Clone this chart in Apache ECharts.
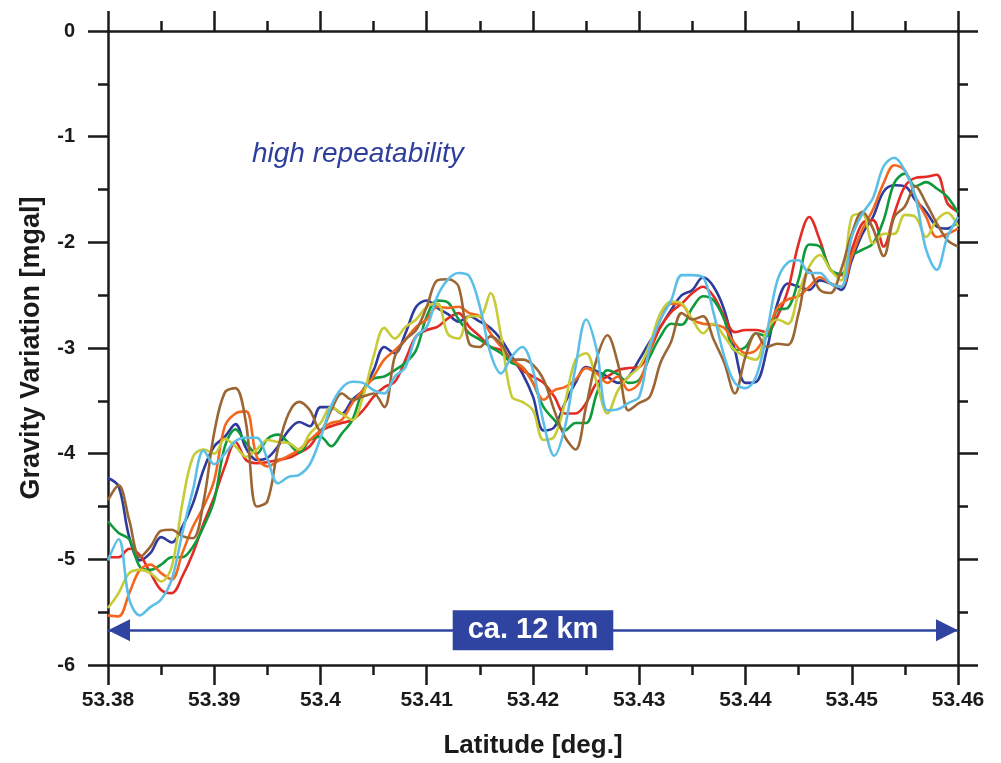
<!DOCTYPE html>
<html>
<head>
<meta charset="utf-8">
<script src="https://cdn.jsdelivr.net/npm/echarts@6/dist/echarts.min.js"></script>
<style>html,body{margin:0;padding:0;background:#fff}#c{width:1001px;height:763px}</style>
</head>
<body>
<div id="c"></div>
<script>
// sample positions: latitude 53.380 ... 53.460 every 0.001 deg
const latStart = 53.38, latStep = 0.001, nSamples = 81;
const xTicks = [53.38, 53.39, 53.40, 53.41, 53.42, 53.43, 53.44, 53.45, 53.46];
const yTicks = [0, -1, -2, -3, -4, -5, -6];

const blue = [-4.23,-4.31,-4.79,-5.01,-4.94,-4.79,-4.84,-4.69,-4.47,-4.15,-3.93,-3.84,-3.72,-3.95,-4.06,-4.04,-3.93,
-3.78,-3.70,-3.74,-3.56,-3.56,-3.62,-3.49,-3.40,-3.21,-2.99,-3.05,-2.86,-2.61,-2.55,-2.62,-2.68,
-2.75,-2.70,-2.75,-2.81,-2.92,-3.08,-3.24,-3.46,-3.78,-3.75,-3.52,-3.33,-3.18,-3.22,-3.27,-3.33,
-3.27,-3.11,-2.94,-2.80,-2.64,-2.50,-2.45,-2.33,-2.42,-2.64,-3.02,-3.33,-3.32,-3.02,-2.58,-2.39,
-2.42,-2.45,-2.36,-2.39,-2.45,-2.17,-1.92,-1.76,-1.52,-1.46,-1.47,-1.60,-1.71,-1.85,-1.87,-1.80];

const red = [-4.98,-4.98,-4.90,-4.96,-5.13,-5.29,-5.32,-5.16,-4.94,-4.66,-4.41,-4.12,-3.89,-4.06,-4.09,-4.08,-4.06,
-4.04,-3.99,-3.93,-3.79,-3.74,-3.71,-3.68,-3.59,-3.46,-3.37,-3.32,-3.11,-2.89,-2.83,-2.80,-2.72,
-2.67,-2.80,-2.89,-2.99,-3.02,-3.11,-3.21,-3.27,-3.33,-3.46,-3.62,-3.62,-3.52,-3.33,-3.27,-3.21,
-3.19,-3.18,-3.02,-2.80,-2.66,-2.58,-2.48,-2.42,-2.51,-2.70,-2.85,-2.83,-2.83,-2.85,-2.70,-2.45,
-2.01,-1.76,-1.98,-2.26,-2.31,-2.07,-1.82,-1.79,-2.04,-1.73,-1.47,-1.39,-1.38,-1.36,-1.63,-1.71];

const green = [-4.64,-4.75,-4.81,-5.07,-5.10,-5.05,-4.98,-4.98,-4.88,-4.69,-4.44,-3.93,-3.77,-3.90,-4.00,-3.86,-3.82,
-3.90,-3.99,-3.87,-3.84,-3.93,-3.81,-3.68,-3.40,-3.29,-3.27,-3.21,-3.14,-3.02,-2.70,-2.55,-2.57,
-2.73,-2.86,-2.92,-2.99,-3.05,-3.14,-3.18,-3.33,-3.56,-3.68,-3.78,-3.71,-3.71,-3.43,-3.21,-3.25,
-3.33,-3.30,-3.08,-2.89,-2.77,-2.78,-2.62,-2.51,-2.55,-2.73,-3.02,-2.99,-2.86,-2.89,-2.64,-2.62,
-2.35,-2.02,-2.04,-2.26,-2.30,-2.13,-2.07,-2.01,-1.79,-1.44,-1.35,-1.47,-1.43,-1.49,-1.57,-1.72];

const orange = [-5.53,-5.54,-5.32,-5.10,-5.05,-5.13,-5.19,-4.94,-4.69,-4.50,-4.25,-3.74,-3.62,-3.60,-4.03,-4.12,-4.07,
-4.02,-3.96,-3.87,-3.78,-3.71,-3.68,-3.52,-3.40,-3.27,-3.11,-3.02,-2.92,-2.80,-2.73,-2.61,-2.62,
-2.61,-2.67,-2.70,-2.86,-2.99,-3.11,-3.18,-3.33,-3.49,-3.40,-3.37,-3.30,-3.19,-3.24,-3.33,-3.27,
-3.40,-3.33,-3.02,-2.73,-2.58,-2.59,-2.73,-2.77,-2.78,-2.81,-2.96,-3.05,-3.02,-2.86,-2.62,-2.54,
-2.51,-2.42,-2.33,-2.39,-2.42,-2.13,-1.88,-1.69,-1.44,-1.27,-1.32,-1.57,-1.76,-1.95,-1.92,-1.87];

const yellow = [-5.46,-5.32,-5.13,-5.10,-5.13,-5.21,-5.07,-4.47,-4.03,-3.96,-4.00,-3.86,-3.93,-4.03,-3.96,-3.87,-3.89,
-3.90,-3.96,-3.81,-3.71,-3.56,-3.62,-3.68,-3.46,-3.08,-2.81,-2.91,-2.80,-2.73,-2.61,-2.58,-2.87,
-2.91,-2.70,-2.70,-2.48,-2.89,-3.46,-3.51,-3.59,-3.87,-3.84,-3.52,-3.11,-3.05,-3.33,-3.62,-3.40,
-3.27,-3.18,-2.96,-2.67,-2.56,-2.58,-2.73,-2.86,-2.77,-2.89,-3.02,-3.08,-3.11,-2.83,-2.73,-2.77,
-2.48,-2.23,-2.12,-2.26,-2.36,-1.76,-1.73,-2.01,-1.92,-1.92,-1.74,-1.76,-1.95,-1.79,-1.72,-1.85];

const brown = [-4.44,-4.30,-4.63,-4.98,-4.88,-4.73,-4.72,-4.78,-4.80,-4.45,-3.80,-3.42,-3.38,-3.72,-4.50,-4.45,-3.95,
-3.62,-3.51,-3.59,-3.78,-3.59,-3.43,-3.49,-3.46,-3.43,-3.56,-3.08,-2.92,-2.83,-2.61,-2.36,-2.35,
-2.42,-2.96,-2.99,-2.89,-2.96,-3.11,-3.11,-3.16,-3.30,-3.59,-3.84,-3.96,-3.55,-3.10,-2.88,-3.15,
-3.59,-3.52,-3.46,-3.14,-2.94,-2.67,-2.73,-2.70,-2.92,-3.14,-3.43,-3.08,-2.86,-2.99,-2.96,-2.97,
-2.67,-2.26,-2.45,-2.48,-2.26,-1.92,-1.71,-1.87,-2.13,-1.76,-1.66,-1.47,-1.63,-1.82,-1.98,-2.04];

const cyan = [-5.01,-4.81,-5.38,-5.53,-5.45,-5.38,-5.19,-4.75,-4.34,-3.97,-4.10,-4.00,-3.88,-3.85,-3.85,-4.05,-4.28,
-4.22,-4.20,-4.10,-3.85,-3.55,-3.38,-3.32,-3.33,-3.40,-3.43,-3.27,-3.18,-2.89,-2.80,-2.51,-2.35,
-2.29,-2.32,-2.61,-3.05,-3.24,-3.08,-2.99,-3.21,-3.71,-4.02,-3.75,-3.18,-2.73,-3.02,-3.59,-3.58,
-3.52,-3.46,-2.99,-2.73,-2.55,-2.31,-2.31,-2.33,-2.67,-3.08,-3.33,-3.38,-3.27,-2.86,-2.36,-2.19,
-2.17,-2.29,-2.29,-2.39,-2.42,-1.95,-1.73,-1.58,-1.28,-1.20,-1.32,-1.57,-2.07,-2.26,-1.95,-1.76];

const seriesDefs = [
  {name: 'run1', data: blue,   color: '#2c3b9c'},
  {name: 'run2', data: red,    color: '#e32b24'},
  {name: 'run3', data: green,  color: '#0f9a3c'},
  {name: 'run4', data: orange, color: '#f4661f'},
  {name: 'run5', data: yellow, color: '#c6cb36'},
  {name: 'run6', data: brown,  color: '#9b6633'},
  {name: 'run7', data: cyan,   color: '#5bbfe8'}
];
const arrowSpan = [53.38, 53.46];
const arrowLevel = -5.67;

const lats = [];
for (let i = 0; i < nSamples; i++) lats.push(+(latStart + i * latStep).toFixed(3));

const AX = '#1a1a1a';
const ARROW = '#2e44a0';
const FONT = '"Liberation Sans", Arial, sans-serif';
function xAx(pos, showLabel) {
  return {
    type: 'value', position: pos, min: 53.38, max: 53.46, interval: 0.01,
    axisLine: {show: true, onZero: false, lineStyle: {color: AX, width: 2.5}},
    axisTick: {show: true, inside: false, length: 20, lineStyle: {color: AX, width: 2.5}},
    minorTick: {show: true, splitNumber: 2, length: 10, lineStyle: {color: AX, width: 2.5}},
    splitLine: {show: false}, minorSplitLine: {show: false},
    axisLabel: {show: showLabel, margin: 25, fontSize: 21, fontWeight: 'bold', color: AX, fontFamily: FONT,
      formatter: v => String(+v.toFixed(2))},
    name: showLabel ? 'Latitude [deg.]' : '', nameLocation: 'middle', nameGap: 68,
    nameTextStyle: {fontSize: 26, fontWeight: 'bold', color: AX, fontFamily: FONT}
  };
}
function yAx(pos, showLabel) {
  return {
    type: 'value', position: pos, min: -6, max: 0, interval: 1,
    axisLine: {show: true, onZero: false, lineStyle: {color: AX, width: 2.5}},
    axisTick: {show: true, inside: false, length: 20, lineStyle: {color: AX, width: 2.5}},
    minorTick: {show: true, splitNumber: 2, length: 10, lineStyle: {color: AX, width: 2.5}},
    splitLine: {show: false}, minorSplitLine: {show: false},
    axisLabel: {show: showLabel, margin: 33, fontSize: 20, fontWeight: 'bold', color: AX, fontFamily: FONT},
    name: showLabel ? 'Gravity Variation [mgal]' : '', nameLocation: 'middle', nameGap: 63,
    nameTextStyle: {fontSize: 27, fontWeight: 'bold', color: AX, fontFamily: FONT}
  };
}

const series = seriesDefs.map(s => ({
  name: s.name, type: 'line', xAxisIndex: 0, yAxisIndex: 0,
  data: lats.map((x, i) => [x, s.data[i]]),
  smooth: 0.35, showSymbol: false, symbol: 'none',
  lineStyle: {color: s.color, width: 2.6}, itemStyle: {color: s.color},
  silent: true, animation: false, z: 2
}));
series.push({
  type: 'line', data: [], xAxisIndex: 0, yAxisIndex: 0, animation: false, z: 3,
  markLine: {
    silent: true, animation: false,
    symbol: ['none', 'none'],
    lineStyle: {color: ARROW, width: 2.5, type: 'solid'},
    label: {show: true, position: 'insideMiddle', distance: 0, formatter: 'ca. 12 km',
      color: '#fff', fontSize: 29, fontWeight: 'bold', fontFamily: FONT,
      backgroundColor: ARROW, padding: [6, 15, 5, 15]},
    data: [[{coord: [arrowSpan[0], arrowLevel]}, {coord: [arrowSpan[1], arrowLevel]}]]
  },
  markPoint: {
    silent: true, animation: false,
    symbol: 'triangle', symbolSize: [22, 22],
    itemStyle: {color: ARROW}, label: {show: false},
    data: [
      {coord: [arrowSpan[0], arrowLevel], symbolRotate: 90, symbolOffset: [11, 0]},
      {coord: [arrowSpan[1], arrowLevel], symbolRotate: -90, symbolOffset: [-11, 0]}
    ]
  }
});

const chart = echarts.init(document.getElementById('c'), null, {renderer: 'canvas'});
chart.setOption({
  backgroundColor: '#fff',
  animation: false,
  grid: {left: 108, right: 43, top: 31, bottom: 98, containLabel: false, outerBoundsMode: 'none'},
  xAxis: [xAx('bottom', true), xAx('top', false)],
  yAxis: [yAx('left', true), yAx('right', false)],
  series: series,
  graphic: [{
    type: 'text', left: 252, top: 140, silent: true,
    style: {text: 'high repeatability', fill: '#2d3e9c', font: 'italic 28px ' + FONT}
  }]
});
</script>
</body>
</html>
